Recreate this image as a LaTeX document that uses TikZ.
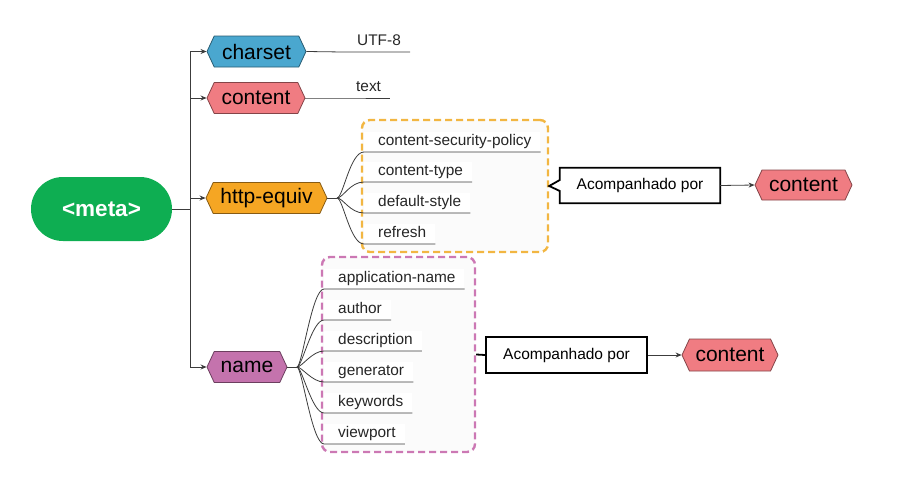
\documentclass[tikz,border=0pt]{standalone}
\usepackage{fontspec}
\setmainfont{Liberation Sans}
\usetikzlibrary{shapes.symbols,arrows.meta,calc}
\definecolor{metagreen}{RGB}{14,174,82}
\definecolor{csblue}{RGB}{74,167,207}
\definecolor{ctred}{RGB}{240,124,130}
\definecolor{heorange}{RGB}{245,166,35}
\definecolor{nmpurple}{RGB}{196,115,173}
\definecolor{dashorange}{RGB}{242,182,66}
\definecolor{dashpink}{RGB}{204,120,180}
\definecolor{linegray}{RGB}{60,60,60}
\begin{document}
\begin{tikzpicture}[x=1pt,y=-1pt,
  hexnode/.style={signal, signal to=east and west, signal pointer angle=130,
    draw=#1!55!black, fill=#1, line width=0.8pt, minimum height=31pt,
    inner xsep=2pt, inner ysep=0pt, font=\fontsize{21}{24}\selectfont, text=black},
  metanode/.style={fill=metagreen, rounded corners=32pt, minimum width=141pt,
    minimum height=64pt, text=white, font=\fontsize{22.5}{26}\selectfont\bfseries},
  leaf/.style={anchor=south west, fill=white, inner xsep=9pt, inner ysep=2.5pt,
    text height=11pt, text depth=3.5pt, font=\fontsize{15.4}{18}\selectfont,
    text=black!85, execute at begin node=\hspace*{5pt}},
  leafline/.style={draw=linegray, line width=0.8pt},
  arr/.style={draw=linegray, line width=0.8pt, -{Stealth[length=6pt,width=5pt]}},
  dbox/.style={draw=#1, dash pattern=on 7pt off 4pt, line width=2.4pt,
    rounded corners=8pt, fill=black!1.5, inner sep=0pt},
  cbox/.style={minimum width=160pt, minimum height=35pt, inner sep=0pt,
    font=\fontsize{15.5}{18}\selectfont},
  cline/.style={draw=black, line width=1.8pt}
]
\useasboundingbox (0,0) rectangle (912,485);

% root
\node[metanode] (meta) at (101.5,209) {<meta>};
\coordinate (tr) at (190,209);

% first-level hexagons
\node[hexnode=csblue, minimum width=99pt] (cs) at (256.5,51.5) {charset};
\node[hexnode=ctred, minimum width=98pt] (ct) at (256,98) {content};
\node[hexnode=heorange, minimum width=121pt] (he) at (266.5,198) {http-equiv};
\node[hexnode=nmpurple, minimum width=80pt] (nm) at (247,367) {name};

\draw[leafline] (meta.east) -- (tr);
\draw[arr] (tr) |- (cs.west);
\draw[arr] (tr) |- (ct.west);
\draw[arr] (tr) |- (he.west);
\draw[arr] (tr) |- (nm.west);

% simple leaves
\node[leaf, fill=none] (utf) at (343,52) {UTF-8};
\draw[leafline] (cs.east) -- (utf.south west) -- (utf.south east);
\node[leaf, fill=none] (txt) at (342,98) {text};
\draw[leafline] (ct.east) -- (txt.south west) -- (txt.south east);

% dashed boxes
\node[dbox=dashorange, minimum width=186pt, minimum height=132pt] (hb) at (455,186) {};
\node[dbox=dashpink, minimum width=153pt, minimum height=195pt] (nb) at (398.5,354.5) {};

% http-equiv children
\coordinate (hf) at (337,198);
\draw[leafline] (he.east) -- (hf);
\node[leaf] (h1) at (364,152) {content-security-policy};
\node[leaf] (h2) at (364,182) {content-type};
\node[leaf] (h3) at (364,213) {default-style};
\node[leaf] (h4) at (364,244) {refresh};
\foreach \n in {h1,h2,h3,h4}
  \draw[leafline] (hf) .. controls +(6,0) and +(-14,0) .. (\n.south west) -- (\n.south east);

% name children
\coordinate (nf) at (297,367);
\draw[leafline] (nm.east) -- (nf);
\node[leaf] (n1) at (324,289) {application-name};
\node[leaf] (n2) at (324,320) {author};
\node[leaf] (n3) at (324,351) {description};
\node[leaf] (n4) at (324,382) {generator};
\node[leaf] (n5) at (324,413) {keywords};
\node[leaf] (n6) at (324,444) {viewport};
\foreach \n in {n1,n2,n3,n4,n5,n6}
  \draw[leafline] (nf) .. controls +(5,0) and +(-12,0) .. (\n.south west) -- (\n.south east);

% callout 1
\node[cbox] (b1) at (640,185.5) {Acompanhado por};
\draw[cline, line join=miter] ($(b1.west)+(0,-5.5)$) -- (b1.north west) -- (b1.north east)
  -- (b1.south east) -- (b1.south west) -- ($(b1.west)+(0,5.5)$) -- (hb.east) -- cycle;
\node[hexnode=ctred, minimum width=97pt, minimum height=30pt] (c1) at (803.5,185) {content};
\draw[arr] (b1.east) -- (c1.west);

% callout 2
\node[cbox, minimum width=161pt, minimum height=36pt, draw=black, line width=1.8pt] (b2) at (566.5,355) {Acompanhado por};
\draw[cline] (nb.east) -- (b2.west);
\node[hexnode=ctred, minimum width=96pt, minimum height=32pt] (c2) at (730,355) {content};
\draw[arr] (b2.east) -- (c2.west);
\end{tikzpicture}
\end{document}
